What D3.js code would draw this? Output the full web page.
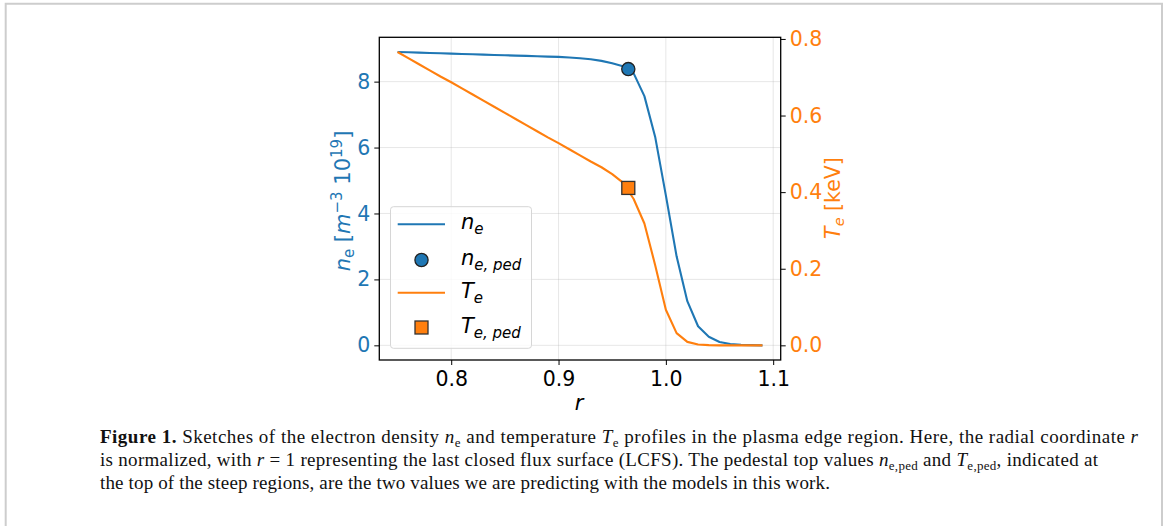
<!DOCTYPE html>
<html lang="en">
<head>
<meta charset="UTF-8">
<title>Figure 1 - pedestal profiles</title>
<script src="https://d3js.org/d3.v7.min.js"></script>
<style>
    * { margin: 0; padding: 0; box-sizing: border-box; }
    body { background: #fff; width: 1165px; height: 526px; overflow: hidden; }
    svg { display: block; }
    .tick-label { font-family: 'DejaVu Sans', sans-serif; font-size: 20.5px; }
    .caption { font-family: 'Liberation Serif', 'Times New Roman', serif; font-size: 19px; fill: #111; }
</style>
</head>
<body>
<div id="chart"></div>
<script>
    // radial coordinate (normalized)
    const rVals = [0.75, 0.76, 0.77, 0.78, 0.79, 0.80, 0.81, 0.82, 0.83, 0.84,
                   0.85, 0.86, 0.87, 0.88, 0.89, 0.90, 0.91, 0.92, 0.93, 0.94,
                   0.95, 0.96, 0.97, 0.98, 0.99, 1.00, 1.01, 1.02, 1.03, 1.04,
                   1.05, 1.06, 1.07, 1.08, 1.09];
    // electron density [m^-3 10^19]
    const neVals = [8.90, 8.89, 8.88, 8.87, 8.86, 8.85, 8.84, 8.83, 8.82, 8.81,
                    8.80, 8.79, 8.78, 8.77, 8.76, 8.75, 8.73, 8.71, 8.68, 8.63,
                    8.56, 8.47, 8.25, 7.56, 6.33, 4.55, 2.70, 1.34, 0.58, 0.26,
                    0.10, 0.04, 0.015, 0.005, 0.0];
    // electron temperature [keV]
    const teVals = [0.766, 0.750, 0.734, 0.718, 0.702, 0.687, 0.671, 0.655, 0.639, 0.623,
                    0.607, 0.591, 0.575, 0.559, 0.543, 0.528, 0.512, 0.496, 0.480, 0.465,
                    0.447, 0.425, 0.382, 0.318, 0.210, 0.093, 0.032, 0.009, 0.002, 0.0005,
                    0.0, 0.0, 0.0, 0.0, 0.0];
    // pedestal tops
    const nePed = { r: 0.965, v: 8.38 };
    const tePed = { r: 0.965, v: 0.411 };

    const xTicks = [0.8, 0.9, 1.0, 1.1];
    const neTicks = [0, 2, 4, 6, 8];
    const teTicks = [0.0, 0.2, 0.4, 0.6, 0.8];

    const blue = '#1f77b4', orange = '#ff7f0e';
    const W = 1165, H = 526;
    const plot = { left: 379.3, right: 780.7, top: 37.3, bottom: 360 };

    // matplotlib style 5% margins
    function padded(vals) {
        const [lo, hi] = d3.extent(vals);
        const m = (hi - lo) * 0.05;
        return [lo - m, hi + m];
    }

    const x = d3.scaleLinear().domain(padded(rVals)).range([plot.left, plot.right]);
    const yN = d3.scaleLinear().domain(padded(neVals)).range([plot.bottom, plot.top]);
    const yT = d3.scaleLinear().domain(padded(teVals)).range([plot.bottom, plot.top]);

    const svg = d3.select('#chart').append('svg')
        .attr('width', W).attr('height', H);

    // page frame
    svg.append('path')
        .attr('d', `M5.7,${H} V3.7 H1162 V${H}`)
        .attr('fill', 'none').attr('stroke', '#cdcdcd').attr('stroke-width', 2);

    // grid
    const grid = svg.append('g').attr('stroke', '#b0b0b0').attr('stroke-opacity', 0.3).attr('stroke-width', 1);
    xTicks.forEach(t => grid.append('line')
        .attr('x1', x(t)).attr('x2', x(t)).attr('y1', plot.top).attr('y2', plot.bottom));
    neTicks.forEach(t => grid.append('line')
        .attr('x1', plot.left).attr('x2', plot.right).attr('y1', yN(t)).attr('y2', yN(t)));

    // lines
    const neLine = d3.line().x((d, i) => x(rVals[i])).y(d => yN(d));
    const teLine = d3.line().x((d, i) => x(rVals[i])).y(d => yT(d));
    svg.append('path').attr('d', neLine(neVals))
        .attr('fill', 'none').attr('stroke', blue).attr('stroke-width', 2.1).attr('stroke-linejoin', 'round');
    svg.append('path').attr('d', teLine(teVals))
        .attr('fill', 'none').attr('stroke', orange).attr('stroke-width', 2.1).attr('stroke-linejoin', 'round');

    // pedestal markers
    svg.append('circle')
        .attr('cx', x(nePed.r)).attr('cy', yN(nePed.v)).attr('r', 6.6)
        .attr('fill', blue).attr('stroke', '#222').attr('stroke-width', 1.3);
    svg.append('rect')
        .attr('x', x(tePed.r) - 6.5).attr('y', yT(tePed.v) - 6.5)
        .attr('width', 13).attr('height', 13)
        .attr('fill', orange).attr('stroke', '#333').attr('stroke-width', 1.3);

    // spines
    svg.append('rect')
        .attr('x', plot.left).attr('y', plot.top)
        .attr('width', plot.right - plot.left).attr('height', plot.bottom - plot.top)
        .attr('fill', 'none').attr('stroke', '#000').attr('stroke-width', 1.3);

    // axes
    const fmt1 = d3.format('.1f');
    const xAxis = svg.append('g').attr('transform', `translate(0,${plot.bottom})`)
        .call(d3.axisBottom(x).tickValues(xTicks).tickFormat(fmt1).tickSize(5).tickPadding(6));
    const lAxis = svg.append('g').attr('transform', `translate(${plot.left},0)`)
        .call(d3.axisLeft(yN).tickValues(neTicks).tickFormat(d3.format('d')).tickSize(5).tickPadding(4));
    const rAxis = svg.append('g').attr('transform', `translate(${plot.right},0)`)
        .call(d3.axisRight(yT).tickValues(teTicks).tickFormat(fmt1).tickSize(5).tickPadding(4));

    [xAxis, lAxis, rAxis].forEach(a => {
        a.select('.domain').remove();
        a.selectAll('.tick line').attr('stroke', '#000').attr('stroke-width', 1);
        a.selectAll('.tick text').attr('class', 'tick-label').attr('font-size', null).attr('font-family', null);
    });
    xAxis.selectAll('.tick text').attr('fill', '#000');
    lAxis.selectAll('.tick text').attr('fill', blue);
    rAxis.selectAll('.tick text').attr('fill', orange);

    // axis labels
    const sans = "'DejaVu Sans', sans-serif";
    svg.append('text')
        .attr('x', 579).attr('y', 410)
        .attr('text-anchor', 'middle').attr('font-family', sans).attr('font-size', 21)
        .attr('font-style', 'italic').text('r');

    const yl = svg.append('text')
        .attr('transform', 'translate(350,201) rotate(-90)')
        .attr('text-anchor', 'middle').attr('font-family', sans).attr('font-size', 21)
        .attr('fill', blue);
    yl.append('tspan').attr('font-style', 'italic').text('n');
    yl.append('tspan').attr('font-size', 15).attr('dy', 4).text('e');
    yl.append('tspan').attr('dy', -4).text(' [');
    yl.append('tspan').attr('font-style', 'italic').text('m');
    yl.append('tspan').attr('font-size', 15).attr('dy', -8).text('\u22123');
    yl.append('tspan').attr('dy', 8).text(' 10');
    yl.append('tspan').attr('font-size', 15).attr('dy', -8).text('19');
    yl.append('tspan').attr('dy', 8).text(']');

    const yr = svg.append('text')
        .attr('transform', 'translate(840,198) rotate(-90)')
        .attr('text-anchor', 'middle').attr('font-family', sans).attr('font-size', 20.5)
        .attr('fill', orange);
    yr.append('tspan').attr('font-style', 'italic').text('T');
    yr.append('tspan').attr('font-size', 14.5).attr('font-style', 'italic').attr('dy', 4).text('e');
    yr.append('tspan').attr('dy', -4).text(' [keV]');

    // legend
    const leg = svg.append('g');
    leg.append('rect')
        .attr('x', 390.5).attr('y', 206.7).attr('width', 141).attr('height', 141.6).attr('rx', 3)
        .attr('fill', 'rgba(255,255,255,0.8)').attr('stroke', '#d6d6d6').attr('stroke-width', 1);
    const legendItems = [
        { kind: 'line', color: blue, main: 'n', sub: 'e' },
        { kind: 'circle', color: blue, main: 'n', sub: 'e, ped' },
        { kind: 'line', color: orange, main: 'T', sub: 'e' },
        { kind: 'square', color: orange, main: 'T', sub: 'e, ped' }
    ];
    const legY = [224.3, 260, 292.7, 327.5];
    legendItems.forEach((it, i) => {
        const cy = legY[i];
        if (it.kind === 'line') {
            leg.append('line').attr('x1', 397.7).attr('x2', 445).attr('y1', cy).attr('y2', cy)
                .attr('stroke', it.color).attr('stroke-width', 2.1);
        } else if (it.kind === 'circle') {
            leg.append('circle').attr('cx', 421.5).attr('cy', cy).attr('r', 6.6)
                .attr('fill', it.color).attr('stroke', '#222').attr('stroke-width', 1.3);
        } else {
            leg.append('rect').attr('x', 421.5 - 6.5).attr('y', cy - 6.5).attr('width', 13).attr('height', 13)
                .attr('fill', it.color).attr('stroke', '#333').attr('stroke-width', 1.3);
        }
        const t = leg.append('text').attr('x', 461).attr('y', cy + 5)
            .attr('font-family', sans).attr('font-size', 21).attr('font-style', 'italic');
        t.append('tspan').text(it.main);
        t.append('tspan').attr('font-size', 15).attr('dy', 5).text(it.sub);
    });

    // caption: each line is a list of [text, style] runs
    // style: 'b' bold, 'i' italic, 's' subscript, '' normal
    const capLines = [
        [['Figure 1.', 'b'], [' Sketches of the electron density ', ''], ['n', 'i'], ['e', 's'],
         [' and temperature ', ''], ['T', 'i'], ['e', 's'],
         [' profiles in the plasma edge region. Here, the radial coordinate ', ''], ['r', 'i']],
        [['is normalized, with ', ''], ['r', 'i'],
         [' = 1 representing the last closed flux surface (LCFS). The pedestal top values ', ''],
         ['n', 'i'], ['e,ped', 's'], [' and ', ''], ['T', 'i'], ['e,ped', 's'], [', indicated at', '']],
        [['the top of the steep regions, are the two values we are predicting with the models in this work.', '']]
    ];
    const capY = [443, 466, 489];
    const capLen = [1038, 998, 730];

    capLines.forEach((runs, li) => {
        const t = svg.append('text').attr('class', 'caption').attr('x', 100).attr('y', capY[li])
            .attr('textLength', capLen[li]).attr('lengthAdjust', 'spacing');
        let lowered = false;
        runs.forEach(([txt, st]) => {
            const sp = t.append('tspan').text(txt);
            if (st === 'b') sp.attr('font-weight', 'bold');
            if (st === 'i') sp.attr('font-style', 'italic');
            if (st === 's') {
                sp.attr('font-size', 13).attr('dy', 3.5);
                lowered = true;
            } else if (lowered) {
                sp.attr('dy', -3.5);
                lowered = false;
            }
        });
    });
</script>
</body>
</html>
